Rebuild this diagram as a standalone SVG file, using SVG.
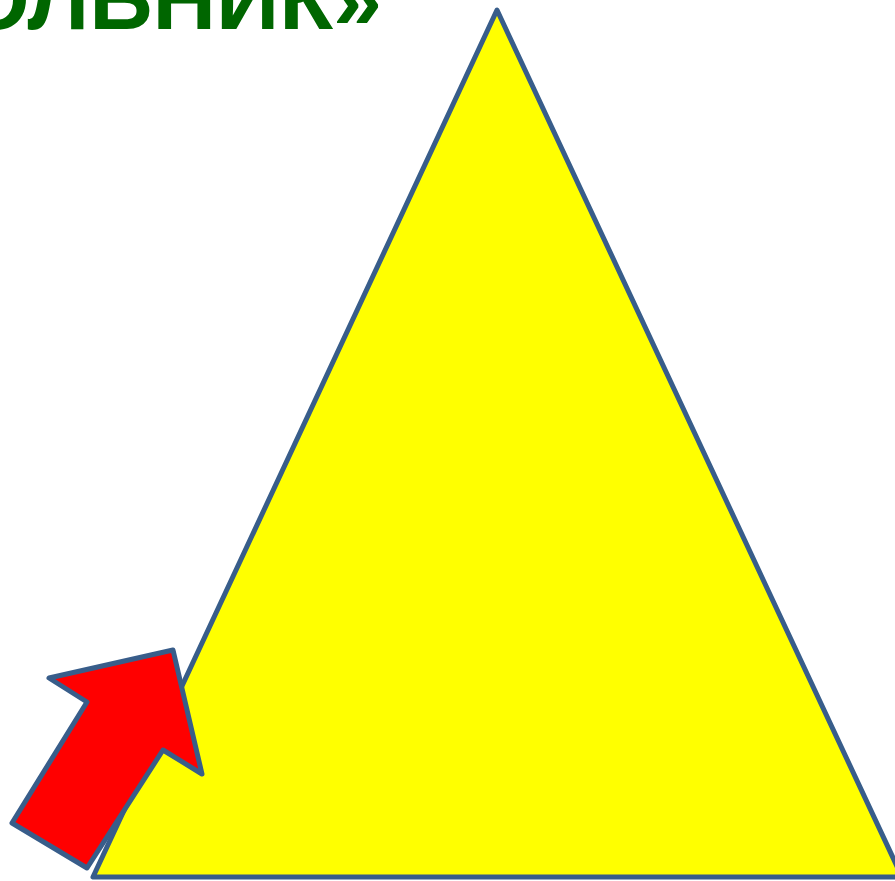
<svg xmlns="http://www.w3.org/2000/svg" width="895" height="881" viewBox="0 0 895 881">
<style>
.title{font-family:"Liberation Sans",Arial,sans-serif;font-weight:bold;font-size:88px;fill:#006600}
.shape{stroke:#385D8A;stroke-width:5;stroke-linejoin:round}
</style>
<rect width="895" height="881" fill="#ffffff"/>
<text class="title" x="382" y="29" text-anchor="end">ОЛЬНИК»</text>
<g id="triangle">
<polygon class="shape" points="497,10 93,877 902,877" fill="#FFFF00"/>
</g>
<g id="arrow">
<polygon class="shape" points="173,650 202,774 163,750 87,868 12,823 87,702 49,678" fill="#FF0000"/>
</g>
<g id="connectors"></g>
</svg>
